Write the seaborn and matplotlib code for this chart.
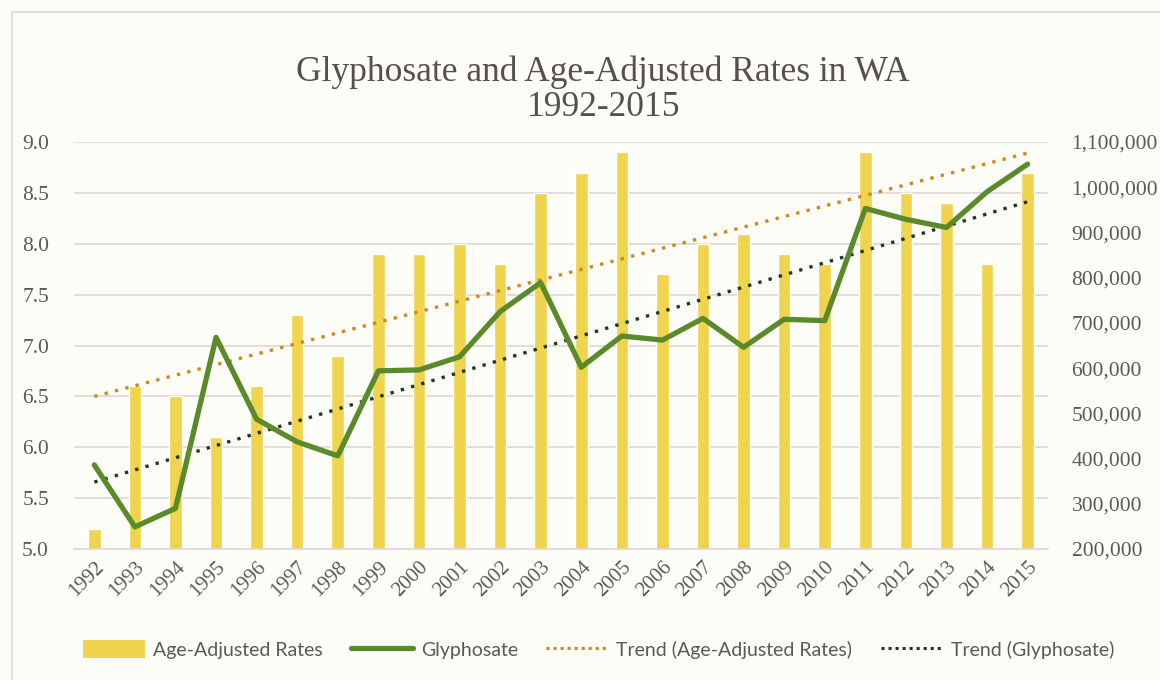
import matplotlib
matplotlib.use("Agg")
import matplotlib.pyplot as plt
from matplotlib.lines import Line2D
from matplotlib.patches import Patch, Rectangle
from matplotlib.ticker import FuncFormatter, MultipleLocator
import seaborn as sns
import numpy as np
import pandas as pd

years = [str(y) for y in range(1992, 2016)]
age_adjusted_rates = [5.2, 6.6, 6.5, 6.1, 6.6, 7.3, 6.9, 7.9, 7.9, 8.0, 7.8, 8.5,
                      8.7, 8.9, 7.7, 8.0, 8.1, 7.9, 7.8, 8.9, 8.5, 8.4, 7.8, 8.7]
glyphosate = [386000, 249000, 290000, 668000, 487000, 437000, 406000, 594000,
              596000, 625000, 725000, 789000, 602000, 671000, 662000, 710000,
              646000, 708000, 705000, 953000, 929000, 911000, 990000, 1051000]

title = "Glyphosate and Age-Adjusted Rates in WA\n1992-2015"
legend_labels = ["Age-Adjusted Rates", "Glyphosate", "Trend (Age-Adjusted Rates)", "Trend (Glyphosate)"]

BAR = "#F0D44E"
GREEN = "#5A8A2A"
ORANGE = "#CC8A1C"
DARK = "#1E3A1E"
TXT = "#595959"
TITLE = "#574F4C"
GRID = "#E3D8D8"
BG = "#FDFDF8"

sns.set_theme(style="white")
plt.rcParams['font.family'] = ['Liberation Serif', 'DejaVu Serif']

df = pd.DataFrame({"year": years, "rate": age_adjusted_rates, "gly": glyphosate})
df["idx"] = np.arange(len(years))

fig = plt.figure(figsize=(11.6, 6.8), dpi=100, facecolor=BG)
ax = fig.add_axes([0.0638, 0.1926, 0.8396, 0.5986])
ax.set_facecolor(BG)
ax2 = ax.twinx()

sns.barplot(data=df, x="idx", y="rate", color=BAR, width=0.31, ax=ax,
            saturation=1, zorder=2, native_scale=True)
sns.regplot(data=df, x="idx", y="rate", scatter=False, ci=None, ax=ax, truncate=True,
            line_kws=dict(color=ORANGE, ls=(0, (1, 2.2)), lw=2.4, zorder=3))

sns.lineplot(data=df, x="idx", y="gly", color=GREEN, lw=3.8, ax=ax2, zorder=4)
sns.regplot(data=df, x="idx", y="gly", scatter=False, ci=None, ax=ax2, truncate=True,
            line_kws=dict(color=DARK, ls=(0, (1, 2.2)), lw=2.4, zorder=3))

ax.set_xlim(-0.5, len(years) - 0.5)
ax.set_ylim(5.0, 9.0)
ax2.set_ylim(200000, 1100000)
ax.yaxis.set_major_locator(MultipleLocator(0.5))
ax2.yaxis.set_major_locator(MultipleLocator(100000))
ax.yaxis.set_major_formatter(FuncFormatter(lambda v, p: f"{v:.1f}"))
ax2.yaxis.set_major_formatter(FuncFormatter(lambda v, p: f"{int(round(v)):,}"))

ax.set_xticks(df["idx"])
ax.set_xticklabels(years, rotation=45, ha="right", rotation_mode="anchor")
ax.set_xlabel("")
ax.set_ylabel("")
ax2.set_ylabel("")

ax.grid(axis="y", color=GRID, lw=1.3, zorder=0)
ax.set_axisbelow(True)
for a in (ax, ax2):
    for s in a.spines.values():
        s.set_visible(False)
    a.tick_params(length=0, colors=TXT, labelsize=15.5)
ax.spines["bottom"].set_visible(True)
ax.spines["bottom"].set_color(GRID)
ax.spines["bottom"].set_linewidth(1.3)
ax.tick_params(axis="y", pad=18)
ax.tick_params(axis="x", pad=6, labelsize=15)
ax2.tick_params(axis="y", pad=17)

fig.suptitle(title, x=0.52, y=0.918, fontsize=25.5, color=TITLE, linespacing=1.05,
             family=['Liberation Serif'])

handles = [Patch(facecolor=BAR, edgecolor="none"),
           Line2D([], [], color=GREEN, lw=3.8),
           Line2D([], [], color=ORANGE, lw=2.2, ls=(0, (1, 1.3))),
           Line2D([], [], color=DARK, lw=2.2, ls=(0, (1, 1.3)))]
leg = fig.legend(handles, legend_labels, loc="center", bbox_to_anchor=(0.516, 0.045),
                 ncol=4, frameon=False, handlelength=3.2, handleheight=1.0,
                 columnspacing=1.45, handletextpad=0.4,
                 prop=dict(family=['Liberation Sans Narrow', 'Lato', 'DejaVu Sans'], size=14))
for t in leg.get_texts():
    t.set_color(TXT)

fig.add_artist(Rectangle((0.010, -0.01), 1.2, 0.992, transform=fig.transFigure,
                         fill=False, edgecolor="#E2DADA", lw=1.2))

fig.savefig("out.png", dpi=100, facecolor=BG)
